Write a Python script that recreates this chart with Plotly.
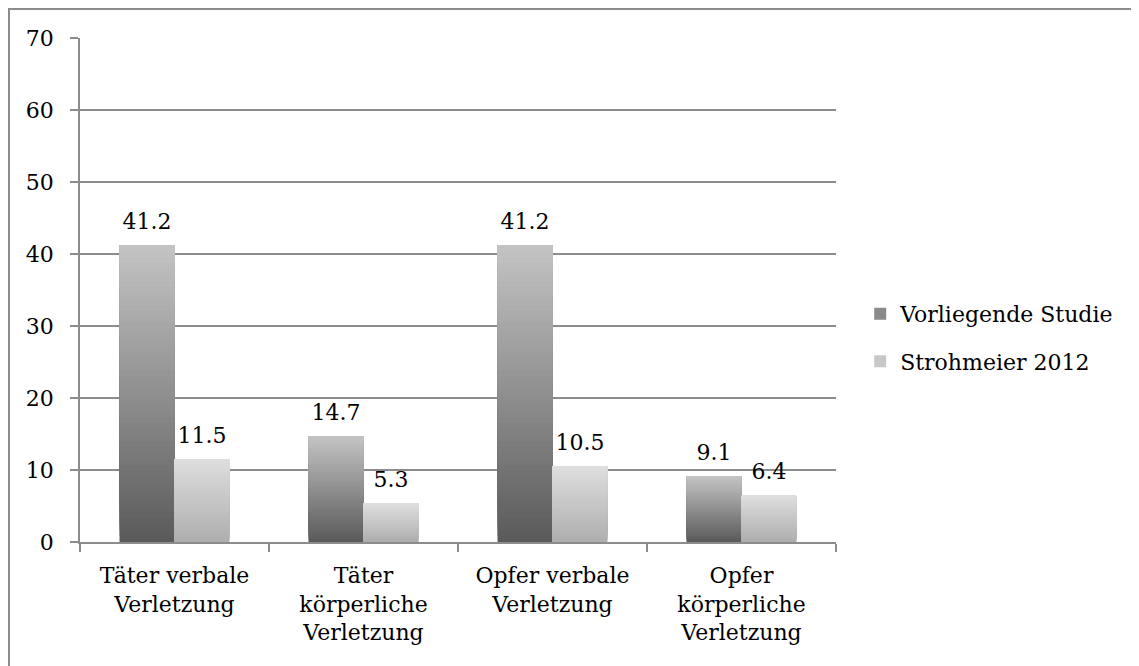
import plotly.graph_objects as go

categories = ["Täter verbale<br>Verletzung", "Täter<br>körperliche<br>Verletzung",
              "Opfer verbale<br>Verletzung", "Opfer<br>körperliche<br>Verletzung"]
series_names = ["Vorliegende Studie", "Strohmeier 2012"]
vorliegende = [41.2, 14.7, 41.2, 9.1]
strohmeier = [11.5, 5.3, 10.5, 6.4]
y_ticks = [0, 10, 20, 30, 40, 50, 60, 70]

# gradient (bottom colour, top colour) per series
grad = [((0x5a, 0x5a, 0x5a), (0xc4, 0xc4, 0xc4)),
        ((0xae, 0xae, 0xae), (0xde, 0xde, 0xde))]
mid = ["#8a8a8a", "#c8c8c8"]

FONT = "DejaVu Serif"
FS = 22
GRID = "#8c8c8c"
fig = go.Figure()
N = 50
all_vals = [vorliegende, strohmeier]
for s, (name, vals) in enumerate(zip(series_names, all_vals)):
    fig.add_trace(go.Bar(
        x=categories, y=vals, name=name, offsetgroup=str(s), legendgroup=name,
        marker=dict(color=mid[s], line=dict(width=0)), hoverinfo="skip",
    ))
    b, t = grad[s]
    for k in range(N):
        f = (k + 0.5) / N
        col = "rgb(%d,%d,%d)" % tuple(round(b[i] + (t[i] - b[i]) * f) for i in range(3))
        # each band runs from its own start up to the bar top; later bands cover
        # the upper part of earlier ones, so no seams appear
        fig.add_trace(go.Bar(
            x=categories, y=[v * (N - k) / N for v in vals],
            base=[v * k / N for v in vals],
            offsetgroup=str(s), showlegend=False, hoverinfo="skip", legendgroup=name,
            marker=dict(color=col, line=dict(width=0)),
        ))

# value labels, placed through scatter grouping so they sit over their bars
for s, vals in enumerate(all_vals):
    fig.add_trace(go.Scatter(
        x=categories, y=vals, mode="markers+text", offsetgroup=str(s),
        marker=dict(size=16, opacity=0), text=[f"{v:.1f}" for v in vals],
        textposition="top center", textfont=dict(family=FONT, size=FS, color="#000"),
        showlegend=False, hoverinfo="skip", cliponaxis=False,
    ))

fig.update_layout(
    width=1131, height=658,
    margin=dict(l=72, r=303, t=30, b=124, autoexpand=False),
    paper_bgcolor="white", plot_bgcolor="white",
    barmode="group", bargap=0.42, bargroupgap=0,
    scattermode="group", scattergap=0.42,
    font=dict(family=FONT, size=FS, color="#000"),
    legend=dict(x=1.032, y=0.405, xanchor="left", yanchor="middle",
                font=dict(family=FONT, size=FS), traceorder="grouped",
                tracegroupgap=16, itemwidth=30, bgcolor="rgba(0,0,0,0)"),
    shapes=[dict(type="rect", xref="paper", yref="paper",
                 x0=-0.0939, x1=1.6, y0=-0.4, y1=1.0575,
                 line=dict(color=GRID, width=2), fillcolor="rgba(0,0,0,0)",
                 layer="below")],
)
fig.update_yaxes(range=[0, 70], tickvals=y_ticks, showgrid=True,
                 gridcolor=GRID, gridwidth=1.5,
                 showline=True, linecolor=GRID, linewidth=1.5,
                 ticks="outside", ticklen=8, tickcolor=GRID, tickwidth=1.5,
                 ticklabelstandoff=12, automargin=False,
                 zeroline=False, tickfont=dict(family=FONT, size=FS))
fig.update_xaxes(showline=True, linecolor=GRID, linewidth=1.5,
                 ticks="outside", tickson="boundaries", ticklen=8,
                 tickcolor=GRID, tickwidth=1.5, showgrid=False,
                 ticklabelstandoff=13, automargin=False,
                 tickfont=dict(family=FONT, size=FS))

fig.write_html("out.html")
